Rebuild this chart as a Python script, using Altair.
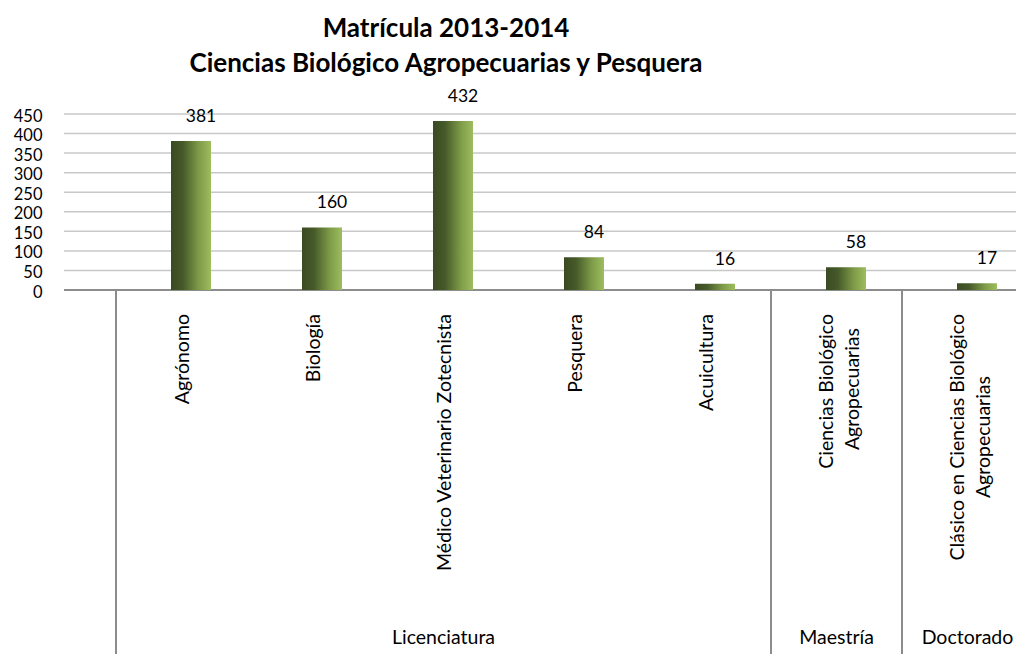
import altair as alt
import pandas as pd

# ---------------- data ----------------
categories = [
    "Agrónomo",
    "Biología",
    "Médico Veterinario Zotecnista",
    "Pesquera",
    "Acuicultura",
    "Ciencias Biológico Agropecuarias",
    "Clásico en Ciencias Biológico Agropecuarias",
]
label_line1 = [
    "Agrónomo",
    "Biología",
    "Médico Veterinario Zotecnista",
    "Pesquera",
    "Acuicultura",
    "Ciencias Biológico",
    "Clásico en Ciencias Biológico",
]
label_line2 = ["", "", "", "", "", "Agropecuarias", "Agropecuarias"]
values = [381, 160, 432, 84, 16, 58, 17]
levels = ["Licenciatura", "Licenciatura", "Licenciatura", "Licenciatura",
          "Licenciatura", "Maestría", "Doctorado"]
level_order = ["Licenciatura", "Maestría", "Doctorado"]
y_ticks = [0, 50, 100, 150, 200, 250, 300, 350, 400, 450]
title_lines = ["Matrícula 2013-2014", "Ciencias Biológico Agropecuarias y Pesquera"]

df = pd.DataFrame({
    "cat": categories,
    "line1": label_line1,
    "line2": label_line2,
    "value": values,
    "level": levels,
})
tick_df = pd.DataFrame({"tick": y_ticks})

# group table: first category (separator) and middle category (label anchor)
grp_rows = []
for lv in level_order:
    members = [c for c, l in zip(categories, levels) if l == lv]
    grp_rows.append({"level": lv, "first": members[0],
                     "mid": members[len(members) // 2]})
gdf = pd.DataFrame(grp_rows)

# ---------------- geometry / style ----------------
W, H = 952, 176
PAD_L, PAD_T, PAD_B = 56, 106, 364
STEP = 131
X0 = 52
FONT = "Lato"
FS = 19.5          # category labels
FS_VAL = 17.5      # data labels
FS_Y = 16.5        # y tick labels

xscale = alt.Scale(domain=categories, range=[X0, X0 + STEP * len(categories)],
                   paddingInner=0, paddingOuter=0)
yscale = alt.Scale(domain=[0, 450])

gradient = alt.LinearGradient(
    gradient="linear",
    x1=0, x2=1, y1=0, y2=0,
    stops=[
        alt.GradientStop(color="#3b4a22", offset=0),
        alt.GradientStop(color="#465a29", offset=0.3),
        alt.GradientStop(color="#7f9c48", offset=0.7),
        alt.GradientStop(color="#9dbd5e", offset=1),
    ],
)

yaxis = alt.Axis(
    values=y_ticks, title=None, ticks=False, domain=False, grid=False,
    labelFont=FONT, labelFontSize=FS_Y, labelColor="black", labelPadding=22,
    labelOffset=2, labelOverlap=False, labelFlush=False,
)

# horizontal gridlines spanning the whole plot width (0 line darker)
grid = alt.Chart(tick_df).mark_rule().encode(
    y=alt.Y("tick:Q", scale=yscale, axis=yaxis),
    color=alt.condition("datum.tick === 0", alt.value("#8c8c8c"), alt.value("#c8c8c8")),
    strokeWidth=alt.condition("datum.tick === 0", alt.value(2), alt.value(1.5)),
)

base = alt.Chart(df)

bars = base.mark_bar(size=40, xOffset=9.5, color=gradient).encode(
    x=alt.X("cat:N", scale=xscale, axis=None),
    y=alt.Y("value:Q", scale=yscale, axis=yaxis),
)

value_labels = base.mark_text(
    font=FONT, fontSize=FS_VAL, color="black", baseline="middle", dx=19.5, dy=-24
).encode(
    x=alt.X("cat:N", scale=xscale, axis=None),
    y=alt.Y("value:Q", scale=yscale, axis=yaxis),
    text="value:Q",
)

rot = dict(font=FONT, fontSize=FS, color="black", angle=270, align="right",
           baseline="middle")

single_labels = base.transform_filter("datum.line2 === ''").mark_text(
    xOffset=1.5, **rot
).encode(
    x=alt.X("cat:N", scale=xscale, axis=None),
    y=alt.value(H + 24),
    text="line1:N",
)

double_line1 = base.transform_filter("datum.line2 !== ''").mark_text(
    xOffset=-10, **rot
).encode(
    x=alt.X("cat:N", scale=xscale, axis=None),
    y=alt.value(H + 24),
    text="line1:N",
)

line2_m = base.transform_filter("datum.level === 'Maestría'").mark_text(
    xOffset=16, yOffset=14, **rot
).encode(
    x=alt.X("cat:N", scale=xscale, axis=None),
    y=alt.value(H + 24),
    text="line2:N",
)

line2_d = base.transform_filter("datum.level === 'Doctorado'").mark_text(
    xOffset=16, yOffset=62, **rot
).encode(
    x=alt.X("cat:N", scale=xscale, axis=None),
    y=alt.value(H + 24),
    text="line2:N",
)

gbase = alt.Chart(gdf)

separators = gbase.mark_rule(color="#8c8c8c", strokeWidth=2).encode(
    x=alt.X("first:N", scale=xscale, axis=None, bandPosition=0),
    y=alt.value(H),
    y2=alt.value(H + PAD_B),
)

group_labels = gbase.mark_text(
    font=FONT, fontSize=FS, color="black", baseline="middle", align="center"
).encode(
    x=alt.X("mid:N", scale=xscale, axis=None),
    y=alt.value(H + 348),
    text="level:N",
)

chart = alt.layer(
    grid, bars, value_labels, single_labels, double_line1, line2_m, line2_d,
    separators, group_labels,
).properties(
    width=W, height=H,
    autosize=alt.AutoSizeParams(type="none"),
    padding={"left": PAD_L, "top": PAD_T, "right": 0, "bottom": PAD_B},
    title=alt.TitleParams(
        text=title_lines, anchor="middle", frame="group", dx=-94,
        font=FONT, fontSize=26, fontWeight="bold", color="black",
        lineHeight=35, baseline="bottom", offset=-15,
    ),
).configure(background="white").configure_view(stroke=None)

chart.save("out.html", embed_options={"renderer": "svg", "actions": False})
